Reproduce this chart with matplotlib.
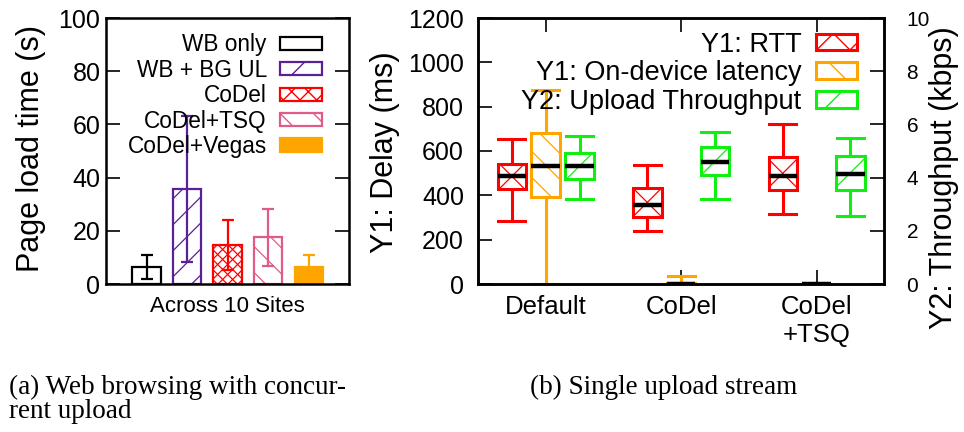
import matplotlib
matplotlib.use('Agg')
import matplotlib.pyplot as plt
from matplotlib.lines import Line2D
from matplotlib.patches import Patch
from matplotlib.transforms import IdentityTransform

plt.rcParams['font.family'] = ['Liberation Sans', 'DejaVu Sans']

# (a) page load time across 10 sites: mean with min/max range
setups = ['WB only', 'WB + BG UL', 'CoDel', 'CoDel+TSQ', 'CoDel+Vegas']
load_mean = [6.3, 35.6, 14.7, 17.6, 6.3]
load_low = [1.9, 8.2, 5.3, 6.8, 1.9]
load_high = [10.8, 63.3, 24.1, 28.3, 10.9]

# (b) single upload stream, one box per scheme
schemes = ['Default', 'CoDel', 'CoDel\n+TSQ']
rtt_whislo = [283, 237, 317]
rtt_q1 = [429, 304, 426]
rtt_med = [485, 357, 489]
rtt_q3 = [543, 432, 572]
rtt_whishi = [652, 539, 720]

lat_whislo = [0, 0, 0]
lat_q1 = [391, 0, 0]
lat_med = [531, 1, 1]
lat_q3 = [680, 3, 2]
lat_whishi = [876, 38, 2]

tput_whislo = [3.18, 3.18, 2.54]
tput_q1 = [3.95, 4.08, 3.55]
tput_med = [4.42, 4.60, 4.12]
tput_q3 = [4.92, 5.15, 4.82]
tput_whishi = [5.58, 5.72, 5.48]

RED = '#ff0000'
ORANGE = '#ffa500'
GREEN = '#11ee11'
PURPLE = '#5b1f96'
PINK = '#de5b8a'


def sparse_hatch(ax, patch, spacing, slopes, color, zorder, lw=0.9):
    # gnuplot-like wide hatching: diagonal lines (in pixels) clipped to the patch
    bb = patch.get_window_extent()
    cx, cy = (bb.x0 + bb.x1) / 2, (bb.y0 + bb.y1) / 2
    reach = bb.width + bb.height
    n = int(reach / spacing) + 1
    for s in slopes:
        for k in range(-n, n + 1):
            x0 = cx + k * spacing
            line = Line2D([x0 - reach, x0 + reach], [cy - s * reach, cy + s * reach],
                          transform=IdentityTransform(), color=color, lw=lw, zorder=zorder)
            ax.add_artist(line)
            line.set_clip_path(patch)


def box_stats(lo, q1, med, q3, hi):
    return [dict(whislo=a, q1=b, med=c, q3=d, whishi=e, fliers=[])
            for a, b, c, d, e in zip(lo, q1, med, q3, hi)]


fig = plt.figure(figsize=(9.64, 4.32), dpi=100)

# ---- (a) web browsing ----
ax_a = fig.add_axes([106 / 964, 148 / 432, 243.3 / 964, 266 / 432])
ax_a.set_xlim(-1, 5)
ax_a.set_ylim(0, 100)

edge_colors = ['black', PURPLE, RED, PINK, ORANGE]
face_colors = ['white', 'white', 'white', 'white', ORANGE]
xs = list(range(len(setups)))
bars = ax_a.bar(xs, load_mean, width=0.7, color=face_colors, edgecolor=edge_colors,
                linewidth=1.6, zorder=2)
for i in xs:
    ax_a.errorbar(i, load_mean[i],
                  yerr=[[load_mean[i] - load_low[i]], [load_high[i] - load_mean[i]]],
                  color=edge_colors[i], elinewidth=1.6, capthick=1.6, capsize=4.6, zorder=3)

sparse_hatch(ax_a, bars[1], 26, [1], PURPLE, 2.5)
sparse_hatch(ax_a, bars[2], 10, [1, -1], RED, 2.5)
sparse_hatch(ax_a, bars[3], 26, [-1], PINK, 2.5)

ax_a.set_yticks(range(0, 101, 20))
ax_a.tick_params(axis='y', direction='in', length=10, width=1.2, labelsize=18, pad=4, right=True)
ax_a.set_xticks([2], ['Across 10 Sites'])
ax_a.tick_params(axis='x', length=0, labelsize=16, pad=9)
ax_a.set_ylabel('Page load time (s)', fontsize=22)
ax_a.yaxis.set_label_coords(-0.247, 0.51)
for sp in ax_a.spines.values():
    sp.set_linewidth(1.8)

legend_a = [Patch(facecolor='white', edgecolor='black', lw=1.6),
            Patch(facecolor='white', edgecolor=PURPLE, hatch='/', lw=1.6),
            Patch(facecolor='white', edgecolor=RED, hatch='xx', lw=1.6),
            Patch(facecolor='white', edgecolor=PINK, hatch='\\', lw=1.6),
            Patch(facecolor=ORANGE, edgecolor=ORANGE, lw=1.6)]
ax_a.legend(legend_a, setups, loc='upper right', bbox_to_anchor=(0.887, 0.943),
            frameon=False, markerfirst=False, fontsize=16.3, handlelength=1.85,
            handleheight=0.52, handletextpad=0.58, labelspacing=0.11,
            borderpad=0, borderaxespad=0)

# ---- (b) single upload stream ----
ax_b = fig.add_axes([478 / 964, 148 / 432, 406.3 / 964, 266 / 432])
ax_b.set_xlim(-0.5, 2.5)
ax_b.set_ylim(0, 1200)
ax_t = ax_b.twinx()
ax_t.set_ylim(0, 10)

pos = list(range(len(schemes)))


def draw_boxes(ax, stats, offset, color):
    return ax.bxp(stats, positions=[p + offset for p in pos], widths=0.21, capwidths=0.2,
                  patch_artist=True, showfliers=False, manage_ticks=False, zorder=2,
                  boxprops=dict(facecolor='white', edgecolor=color, lw=2.2),
                  whiskerprops=dict(color=color, lw=2.2),
                  capprops=dict(color=color, lw=2.2),
                  medianprops=dict(color='black', lw=3.2))


rtt = draw_boxes(ax_b, box_stats(rtt_whislo, rtt_q1, rtt_med, rtt_q3, rtt_whishi), -0.25, RED)
lat = draw_boxes(ax_b, box_stats(lat_whislo, lat_q1, lat_med, lat_q3, lat_whishi), 0.0, ORANGE)
tput = draw_boxes(ax_t, box_stats(tput_whislo, tput_q1, tput_med, tput_q3, tput_whishi), 0.25, GREEN)

for b in rtt['boxes']:
    sparse_hatch(ax_b, b, 60, [1, -1], RED, 2.05)
for b in lat['boxes']:
    sparse_hatch(ax_b, b, 26, [-1], ORANGE, 2.05)
for b in tput['boxes']:
    sparse_hatch(ax_t, b, 60, [1], GREEN, 2.05)

ax_b.set_xticks(pos, schemes)
ax_b.tick_params(axis='x', direction='in', length=10, width=1.2, top=True,
                 labelsize=18.5, pad=8)
ax_b.set_yticks(range(0, 1201, 200))
ax_b.tick_params(axis='y', direction='in', length=10, width=1.2, labelsize=18, pad=10,
                 right=False)
ax_t.set_yticks(range(0, 11, 2))
ax_t.tick_params(axis='y', direction='in', length=10, width=1.2, labelsize=15, pad=16)
ax_b.set_ylabel('Y1: Delay (ms)', fontsize=22)
ax_b.yaxis.set_label_coords(-0.192, 0.494)
ax_t.set_ylabel('Y2: Throughput (kbps)', fontsize=22)
ax_t.yaxis.set_label_coords(1.11, 0.40)
for a in (ax_b, ax_t):
    for sp in a.spines.values():
        sp.set_linewidth(1.8)

legend_b = [Patch(facecolor='white', edgecolor=RED, hatch='x', lw=2.2),
            Patch(facecolor='white', edgecolor=ORANGE, hatch='\\', lw=2.2),
            Patch(facecolor='white', edgecolor=GREEN, hatch='/', lw=2.2)]
ax_t.legend(legend_b, ['Y1: RTT', 'Y1: On-device latency', 'Y2: Upload Throughput'],
            loc='upper right', bbox_to_anchor=(0.933, 0.949), frameon=False,
            markerfirst=False, fontsize=19.5, handlelength=1.5, handleheight=0.58,
            handletextpad=0.55, labelspacing=0.1, borderpad=0, borderaxespad=0)

# sub-figure captions
serif = dict(family='Liberation Serif', fontsize=19.5, va='baseline')
fig.text(9 / 964, 1 - 394 / 432, '(a) Web browsing with concur-', **serif)
fig.text(9 / 964, 1 - 418 / 432, 'rent upload', **serif)
fig.text(530 / 964, 1 - 394 / 432, '(b) Single upload stream', **serif)

fig.savefig('out.png', dpi=100)
